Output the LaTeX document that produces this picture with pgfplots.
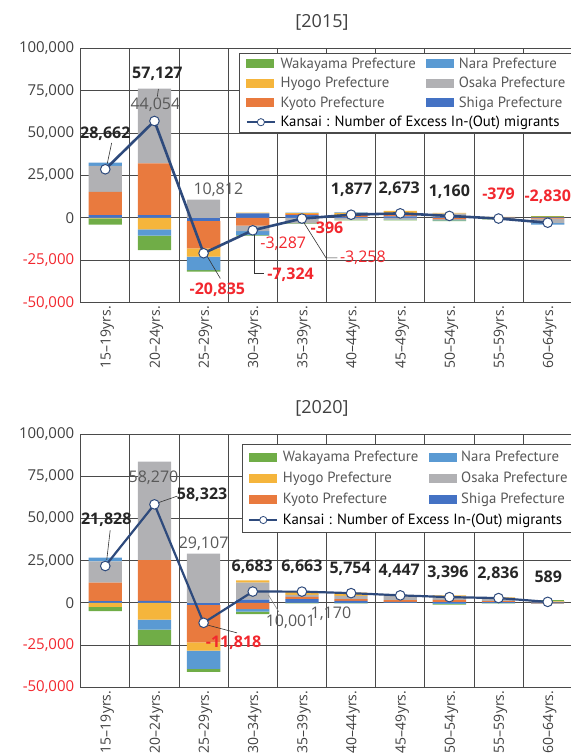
\documentclass[border=0pt]{standalone}
\usepackage{pgfplots}
\usepackage{pgfplotstable}
\pgfplotsset{compat=1.18}
\usepackage{fontspec}
\setmainfont{Open Sans}
\newfontfamily\legfont{PT Sans}
\definecolor{cWak}{HTML}{70AD47}
\definecolor{cHyo}{HTML}{F5B53C}
\definecolor{cKyo}{HTML}{E97A3E}
\definecolor{cNar}{HTML}{5A9AD3}
\definecolor{cOsa}{HTML}{B1B1B4}
\definecolor{cShi}{HTML}{4472C4}
\definecolor{cLine}{HTML}{2E4A7C}
\definecolor{cRed}{HTML}{F2272E}
\definecolor{cTick}{HTML}{404040}
\definecolor{cGrid}{HTML}{4A4A4A}
\definecolor{cLeg}{HTML}{595959}

\pgfplotstableread{
idx Shiga Kyoto Osaka Hyogo Nara Wakayama Kansai
0 1600 13750 15300 -300 2000 -3688 28662
1 1600 30500 44054 -6700 -3700 -8627 57127
2 -1700 -16200 10812 -4900 -8000 -847 -20835
3 2600 -4500 -3287 500 -2437 -200 -7324
4 1600 700 -3258 500 300 -238 -396
5 500 1100 -1000 1300 377 -400 1877
6 900 1800 -800 1373 -200 -400 2673
7 400 -900 2100 500 -600 -340 1160
8 200 -300 100 250 -250 -379 -379
9 300 -500 -2600 400 -830 400 -2830
}\dataA

\pgfplotstableread{
idx Shiga Kyoto Osaka Hyogo Nara Wakayama Kansai
0 1000 10988 12600 -2370 2170 -2560 21828
1 1200 24100 58270 -9900 -5900 -9447 58323
2 -1380 -21955 29107 -4940 -10870 -1780 -11818
3 1950 -3648 10001 1360 -1600 -1380 6683
4 2200 1400 1170 1900 300 -307 6663
5 1200 1000 2000 1800 -100 -146 5754
6 600 1000 2600 300 0 -53 4447
7 500 1200 2500 200 -600 -404 3396
8 400 700 1800 300 -200 -164 2836
9 300 -200 -700 600 200 389 589
}\dataB

\tikzset{
  lblB/.style={font=\bfseries\fontsize{16}{18}\selectfont, text=black!85},
  lblR/.style={font=\bfseries\fontsize{16}{18}\selectfont, text=cRed},
  lblG/.style={font=\fontsize{16}{18}\selectfont, text=cLeg},
  lblGR/.style={font=\fontsize{16}{18}\selectfont, text=cRed},
  leader/.style={draw=black!80, line width=0.6pt},
  leaderG/.style={draw=black!45, line width=0.6pt},
}

\pgfplotsset{
  base/.style={scale only axis, width=491.6pt, xmin=-0.5, xmax=9.5,
    ymin=-50000, ymax=100000, anchor=south west},
  gridaxis/.style={base,
    xtick={0,...,9},
    xticklabels={15–19yrs.,20–24yrs.,25–29yrs.,30–34yrs.,35–39yrs.,40–44yrs.,45–49yrs.,50–54yrs.,55–59yrs.,60–64yrs.},
    minor xtick={-0.5,0.5,...,9.5},
    xminorgrids=true, ymajorgrids=true, xmajorgrids=false,
    ytick={-50000,-25000,0,25000,50000,75000,100000},
    scaled y ticks=false,
    yticklabels={{\textcolor{cRed}{-50,000}},{\textcolor{cRed}{-25,000}},{0},{25,000},{50,000},{75,000},{100,000}},
    major tick length=0pt, minor tick length=0pt,
    grid style={draw=cGrid, line width=0.9pt},
    minor grid style={draw=cGrid, line width=0.9pt},
    axis line style={draw=cGrid, line width=0.9pt},
    tick label style={font=\fontsize{15}{17}\selectfont, text=cTick},
    xticklabel style={rotate=90, anchor=east, font=\fontsize{14}{16}\selectfont, yshift=-2pt},
    yticklabel style={xshift=-3pt}},
  stk/.style={base, ybar stacked, bar width=33.3pt},
  legbase/.style={legend columns=2, legend cell align=left,
    legend style={anchor=north west, draw=cGrid, line width=0.8pt, fill=white,
      font=\legfont\fontsize{14.8}{16}\selectfont, text=cLeg,
      inner xsep=6pt, inner ysep=3pt,
      nodes={inner sep=1.5pt},
      /tikz/every even column/.append style={column sep=9pt},
      /tikz/every odd column/.append style={column sep=3pt}}},
}

\newcommand{\legimages}{%
  \addlegendimage{legend image code/.code={\fill[cWak] (0pt,-4pt) rectangle (27pt,4pt);}}
  \addlegendentry{Wakayama Prefecture}
  \addlegendimage{legend image code/.code={\fill[cNar] (0pt,-4pt) rectangle (27pt,4pt);}}
  \addlegendentry{Nara Prefecture}
  \addlegendimage{legend image code/.code={\fill[cHyo] (0pt,-4pt) rectangle (27pt,4pt);}}
  \addlegendentry{Hyogo Prefecture}
  \addlegendimage{legend image code/.code={\fill[cOsa] (0pt,-4pt) rectangle (27pt,4pt);}}
  \addlegendentry{Osaka Prefecture}
  \addlegendimage{legend image code/.code={\fill[cKyo] (0pt,-4pt) rectangle (27pt,4pt);}}
  \addlegendentry{Kyoto Prefecture}
  \addlegendimage{legend image code/.code={\fill[cShi] (0pt,-4pt) rectangle (27pt,4pt);}}
  \addlegendentry{Shiga Prefecture}
  \addlegendimage{legend image code/.code={\draw[cLine, line width=2.4pt] (0pt,0pt) -- (28pt,0pt); \draw[cLine, fill=white, line width=0.8pt] (14pt,0pt) circle (3.6pt);}}
  \addlegendentry{\makebox[0pt][l]{\textcolor{black}{Kansai : Number of Excess In-(Out) migrants}}}
}

\newcommand{\posbars}[1]{%
  \addplot[fill=cShi, draw=none] table[x=idx, y expr={max(\thisrow{Shiga},0)}] {#1};
  \addplot[fill=cKyo, draw=none] table[x=idx, y expr={max(\thisrow{Kyoto},0)}] {#1};
  \addplot[fill=cOsa, draw=none] table[x=idx, y expr={max(\thisrow{Osaka},0)}] {#1};
  \addplot[fill=cHyo, draw=none] table[x=idx, y expr={max(\thisrow{Hyogo},0)}] {#1};
  \addplot[fill=cNar, draw=none] table[x=idx, y expr={max(\thisrow{Nara},0)}] {#1};
  \addplot[fill=cWak, draw=none] table[x=idx, y expr={max(\thisrow{Wakayama},0)}] {#1};
}
\newcommand{\negbars}[1]{%
  \addplot[fill=cShi, draw=none] table[x=idx, y expr={min(\thisrow{Shiga},0)}] {#1};
  \addplot[fill=cKyo, draw=none] table[x=idx, y expr={min(\thisrow{Kyoto},0)}] {#1};
  \addplot[fill=cOsa, draw=none] table[x=idx, y expr={min(\thisrow{Osaka},0)}] {#1};
  \addplot[fill=cHyo, draw=none] table[x=idx, y expr={min(\thisrow{Hyogo},0)}] {#1};
  \addplot[fill=cNar, draw=none] table[x=idx, y expr={min(\thisrow{Nara},0)}] {#1};
  \addplot[fill=cWak, draw=none] table[x=idx, y expr={min(\thisrow{Wakayama},0)}] {#1};
}

\begin{document}
\begin{tikzpicture}
\useasboundingbox (0pt,0pt) rectangle (571pt,756pt);

% ===== Panel 2015 =====
\begin{axis}[gridaxis, stk, at={(80.7pt,453.3pt)}, height=254.4pt]
\posbars{\dataA}
\end{axis}
\begin{axis}[stk, hide axis, at={(80.7pt,453.3pt)}, height=254.4pt]
\negbars{\dataA}
\end{axis}
\begin{axis}[base, hide axis, clip=false, at={(80.7pt,453.3pt)}, height=254.4pt,
  legbase, legend style={at={(0.3226,0.9827)}, row sep=4.5pt}]
\legimages
\addplot[cLine, line width=2.6pt, mark=*, mark size=4.8pt,
  mark options={fill=white, draw=cLine, line width=1pt}] table[x=idx, y=Kansai] {\dataA};
\draw[leader] (axis cs:0.13,44200) -- (axis cs:0.04,32000);
\node[lblB] at (axis cs:0,49760) {28,662};
\draw[leader] (axis cs:1.08,76000) -- (axis cs:1.06,71500);
\node[lblG] at (axis cs:1.02,66450) {44,054};
\node[lblB] at (axis cs:1.06,85140) {57,127};
\node[lblG] at (axis cs:2.30,16330) {10,812};
\draw[leader] (axis cs:2.07,-22500) -- (axis cs:2.34,-35700);
\node[lblR] at (axis cs:2.28,-42220) {-20,835};
\draw[leader] (axis cs:3.04,-10000) -- (axis cs:3.04,-32780) -- (axis cs:3.23,-32780);
\node[lblGR] at (axis cs:3.62,-15090) {-3,287};
\node[lblR] at (axis cs:3.77,-33370) {-7,324};
\draw[leader] (axis cs:4.04,-2800) -- (axis cs:4.49,-23580) -- (axis cs:4.72,-23580);
\node[lblR] at (axis cs:4.51,-6070) {-396};
\node[lblGR] at (axis cs:5.24,-23580) {-3,258};
\node[lblB] at (axis cs:5.01,16740) {1,877};
\node[lblB] at (axis cs:5.98,17330) {2,673};
\node[lblB] at (axis cs:7.0,15330) {1,160};
\node[lblR] at (axis cs:8.0,14390) {-379};
\node[lblR] at (axis cs:9.0,12380) {-2,830};
\end{axis}

% ===== Panel 2020 =====
\begin{axis}[gridaxis, stk, at={(80.7pt,68.7pt)}, height=253.3pt]
\posbars{\dataB}
\end{axis}
\begin{axis}[stk, hide axis, at={(80.7pt,68.7pt)}, height=253.3pt]
\negbars{\dataB}
\end{axis}
\begin{axis}[base, hide axis, clip=false, at={(80.7pt,68.7pt)}, height=253.3pt,
  legbase, legend style={at={(0.3275,0.9605)}, row sep=6pt, inner ysep=5pt}]
\legimages
\addplot[cLine, line width=2.2pt, mark=*, mark size=4.8pt,
  mark options={fill=white, draw=cLine, line width=1pt}] table[x=idx, y=Kansai] {\dataB};
\draw[leader] (axis cs:0.10,43050) -- (axis cs:0.03,25500);
\node[lblB] at (axis cs:0.02,48980) {21,828};
\node[lblG] at (axis cs:0.98,74260) {58,270};
\draw[leader] (axis cs:1.07,59220) -- (axis cs:1.46,63190);
\node[lblB] at (axis cs:1.97,63780) {58,323};
\node[lblG] at (axis cs:2.0,35180) {29,107};
\draw[leader] (axis cs:2.09,-13210) -- (axis cs:2.68,-17770);
\node[lblR] at (axis cs:2.61,-23690) {-11,818};
\node[lblB] at (axis cs:2.99,21320) {6,683};
\draw[leaderG] (axis cs:3.32,4560) -- (axis cs:3.53,-5330);
\node[lblG] at (axis cs:3.77,-11130) {10,001};
\node[lblB] at (axis cs:4.0,21320) {6,663};
\node[lblG] at (axis cs:4.59,-6280) {1,170};
\node[lblB] at (axis cs:4.98,20370) {5,754};
\node[lblB] at (axis cs:5.98,18950) {4,447};
\node[lblB] at (axis cs:6.97,17770) {3,396};
\node[lblB] at (axis cs:7.99,17410) {2,836};
\node[lblB] at (axis cs:9.01,15400) {589};
\end{axis}

\node[font=\fontsize{18}{20}\selectfont, text=cTick] at (322pt,734pt) {[2015]};
\node[font=\fontsize{18}{20}\selectfont, text=cTick] at (322pt,348pt) {[2020]};
\end{tikzpicture}
\end{document}
